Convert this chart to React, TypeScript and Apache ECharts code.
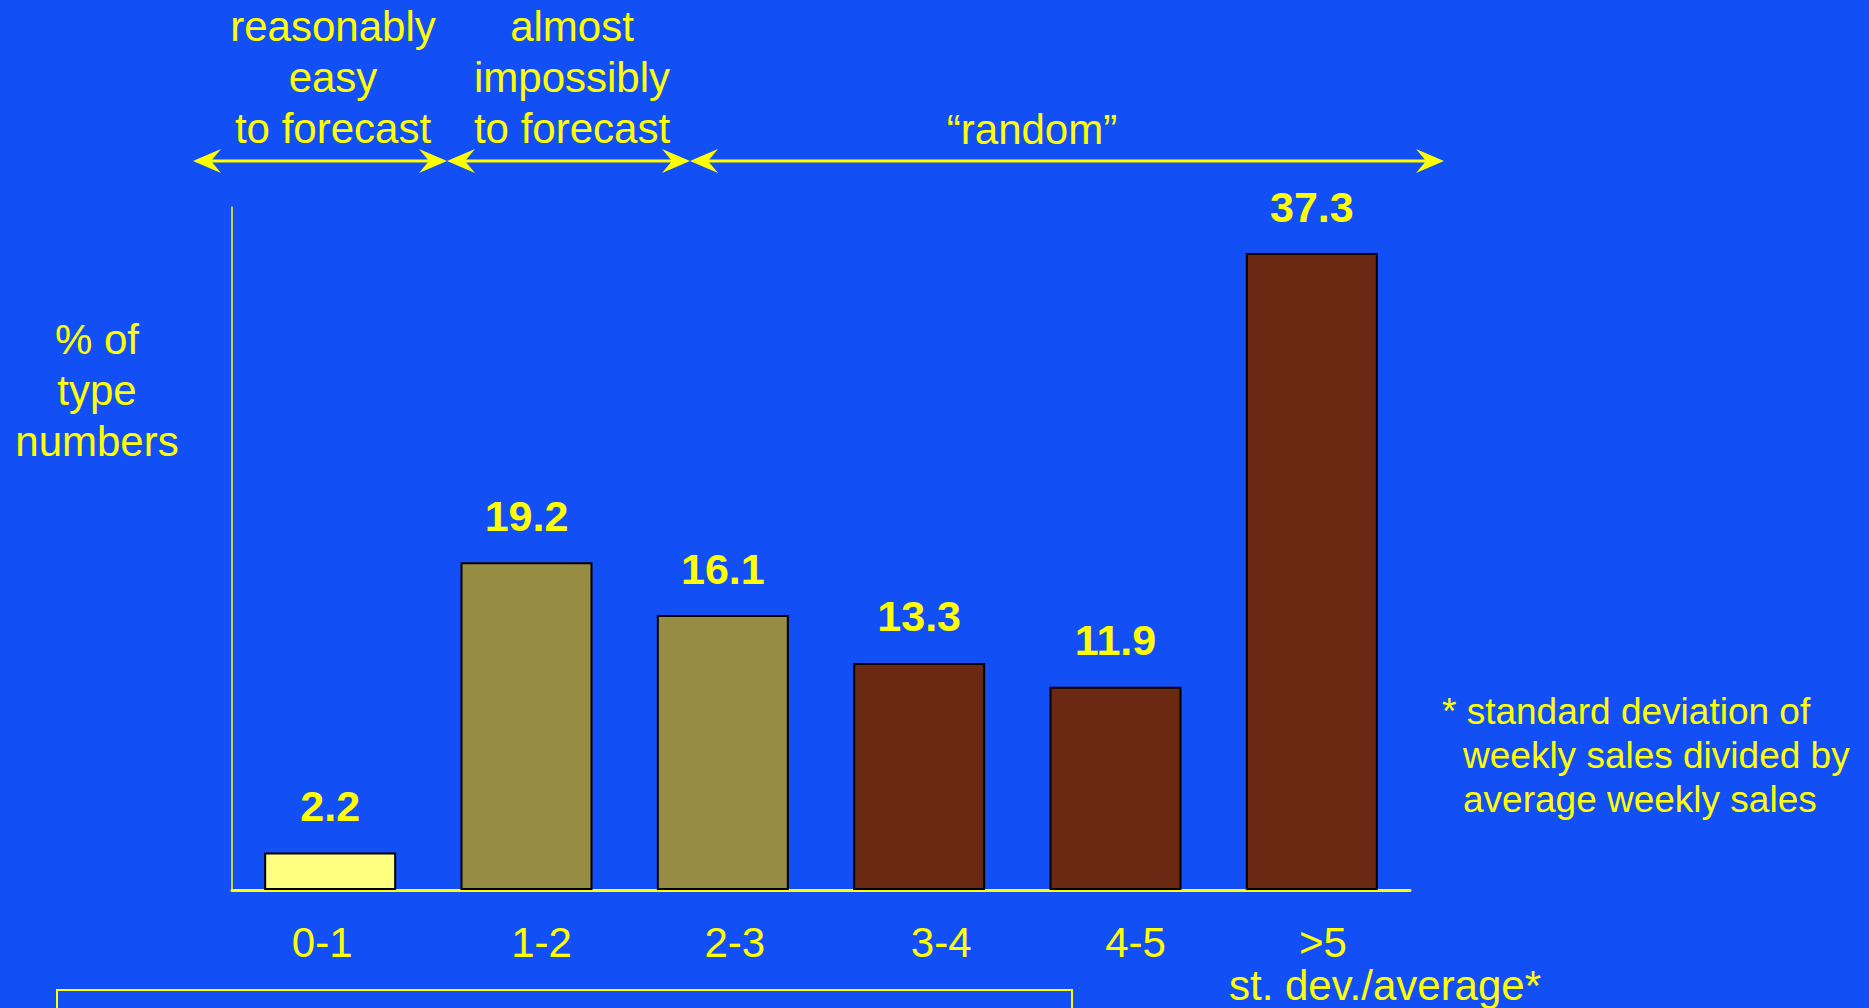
import React, { useEffect, useRef } from "react";
import * as echarts from "echarts";

// Spread of weekly demand: share of type numbers per st. dev./average class
const categories = ["0-1", "1-2", "2-3", "3-4", "4-5", ">5"];
const shares = [2.2, 19.2, 16.1, 13.3, 11.9, 37.3];
const barColors = ["#FFFF80", "#968C43", "#968C43", "#6B2914", "#6B2914", "#6B2914"];

const forecastBands = [
  "reasonably\neasy\nto forecast",
  "almost\nimpossibly\nto forecast",
  "\u201crandom\u201d",
];
const yAxisTitle = "% of\ntype\nnumbers";
const xAxisTitle = "st. dev./average*";
const footnoteLines = [
  "* standard deviation of",
  "weekly sales divided by",
  "average weekly sales",
];

const BG = "#1250F6";
const YELLOW = "#FFFF00";
const FONT = "'Liberation Sans', Arial, Helvetica, sans-serif";

// horizontal nudge (px) of each category label from its band centre
const LABEL_NUDGE = [-8, 15, 12, 22, 20, 11];

function arrowHead(tx: number, ty: number, dir: number) {
  return {
    type: "polygon",
    shape: {
      points: [
        [tx, ty],
        [tx - dir * 28, ty - 12],
        [tx - dir * 18, ty],
        [tx - dir * 28, ty + 12],
      ],
    },
    style: { fill: YELLOW },
    silent: true,
  };
}

function doubleArrow(x1: number, x2: number, y: number) {
  return [
    {
      type: "line",
      shape: { x1: x1 + 10, y1: y, x2: x2 - 10, y2: y },
      style: { stroke: YELLOW, lineWidth: 3 },
      silent: true,
    },
    arrowHead(x1, y, -1),
    arrowHead(x2, y, 1),
  ];
}

export default function App() {
  const ref = useRef<HTMLDivElement>(null);

  useEffect(() => {
    document.body.style.margin = "0";
    document.body.style.background = BG;
    if (!ref.current) return;
    const chart = echarts.init(ref.current, null, { renderer: "svg" });

    const textStyle = (extra: any) => ({
      fill: YELLOW,
      fontFamily: FONT,
      fontSize: 42,
      lineHeight: 51,
      align: "center",
      verticalAlign: "middle",
      ...extra,
    });

    const arrowY = 161;
    const spans: [number, number][] = [
      [193, 447],
      [447, 690],
      [690, 1444],
    ];

    const graphic: any[] = [
      // forecastability bands above the plot
      { type: "text", x: 333, y: 77, style: textStyle({ text: forecastBands[0] }), silent: true },
      { type: "text", x: 572, y: 77, style: textStyle({ text: forecastBands[1] }), silent: true },
      { type: "text", x: 1032, y: 129, style: textStyle({ text: forecastBands[2] }), silent: true },
      ...spans.flatMap(([a, b]) => doubleArrow(a, b, arrowY)),
      // axis titles
      { type: "text", x: 97, y: 390, style: textStyle({ text: yAxisTitle }), silent: true },
      { type: "text", x: 1385, y: 985, style: textStyle({ text: xAxisTitle }), silent: true },
      // footnote
      {
        type: "text",
        x: 1442,
        y: 711,
        style: textStyle({ text: footnoteLines[0], fontSize: 37, lineHeight: 44, align: "left" }),
        silent: true,
      },
      {
        type: "text",
        x: 1463,
        y: 755,
        style: textStyle({ text: footnoteLines[1], fontSize: 37, lineHeight: 44, align: "left" }),
        silent: true,
      },
      {
        type: "text",
        x: 1463,
        y: 799,
        style: textStyle({ text: footnoteLines[2], fontSize: 37, lineHeight: 44, align: "left" }),
        silent: true,
      },
      // empty caption box at the bottom
      {
        type: "rect",
        shape: { x: 57, y: 990, width: 1015, height: 40 },
        style: { fill: "none", stroke: YELLOW, lineWidth: 2 },
        silent: true,
      },
    ];

    // one rich style per category label, padded to shift it sideways
    const rich: Record<string, any> = {};
    LABEL_NUDGE.forEach((n, i) => {
      rich["c" + i] = {
        color: YELLOW,
        fontFamily: FONT,
        fontSize: 42,
        padding: n >= 0 ? [0, 0, 0, 2 * n] : [0, -2 * n, 0, 0],
      };
    });

    chart.setOption({
      animation: false,
      backgroundColor: BG,
      grid: { left: 232, right: 459, top: 207, bottom: 118, containLabel: false },
      xAxis: {
        type: "category",
        data: categories,
        axisLine: { show: true, lineStyle: { color: YELLOW, width: 3 } },
        axisTick: { show: false },
        axisLabel: {
          color: YELLOW,
          fontFamily: FONT,
          fontSize: 42,
          margin: 31,
          interval: 0,
          formatter: (value: string, index: number) => `{c${index}|${value}}`,
          rich,
        },
        splitLine: { show: false },
      },
      yAxis: {
        type: "value",
        min: 0,
        max: 40,
        axisLine: { show: true, lineStyle: { color: YELLOW, width: 1.5 } },
        axisTick: { show: false },
        axisLabel: { show: false },
        splitLine: { show: false },
      },
      series: [
        {
          type: "bar",
          barWidth: 132,
          data: shares.map((v, i) => ({
            value: v,
            itemStyle: { color: barColors[i], borderColor: "#000000", borderWidth: 2 },
          })),
          label: {
            show: true,
            position: "top",
            distance: 25,
            color: YELLOW,
            fontFamily: FONT,
            fontSize: 43,
            fontWeight: "bold",
            formatter: (p: any) => p.value.toFixed(1),
          },
        },
      ],
      graphic,
    });

    return () => chart.dispose();
  }, []);

  return <div ref={ref} style={{ width: 1869, height: 1008 }} />;
}
